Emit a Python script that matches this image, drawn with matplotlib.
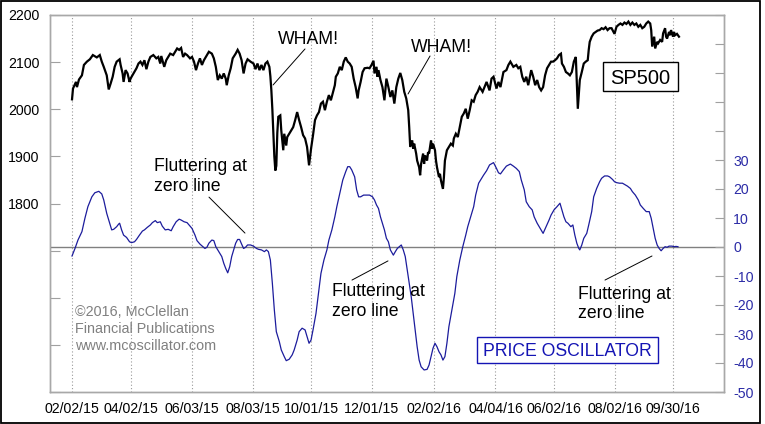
import matplotlib
matplotlib.use("Agg")
import matplotlib.pyplot as plt
import matplotlib.patches as mpatches
import pandas as pd

plt.rcParams['font.family'] = ['Liberation Sans', 'DejaVu Sans']
plt.rcParams['axes.unicode_minus'] = False

# ---------------- data ----------------
base_date = "2015-02-02"

sp_days = [0, 1, 4, 5, 7, 10, 12, 15, 18, 21, 25, 28, 30, 32, 35, 37, 39, 41, 43, 45,
           48, 49, 51, 52, 54, 56, 58, 59, 62, 65, 67, 69, 71, 73, 75, 77, 79, 82, 85, 87,
           89, 90, 93, 95, 97, 99, 102, 104, 106, 108, 110, 112, 114, 116, 119, 121, 123, 125, 127, 129,
           131, 133, 136, 138, 141, 143, 145, 147, 149, 151, 153, 155, 156, 158, 160, 162, 165, 167, 169, 171,
           173, 175, 177, 180, 183, 185, 187, 189, 191, 193, 195, 197, 199, 200, 201, 202, 203, 204, 205, 206,
           207, 208, 210, 211, 213, 214, 216, 217, 219, 221, 223, 225, 227, 229, 231, 233, 235, 237, 239, 240,
           241, 243, 245, 247, 249, 251, 253, 255, 257, 259, 261, 263, 265, 266, 268, 270, 272, 274, 276, 278,
           280, 282, 284, 286, 288, 289, 291, 293, 295, 298, 300, 302, 304, 305, 307, 308, 309, 311, 313, 315,
           317, 319, 321, 323, 325, 327, 329, 331, 333, 335, 337, 339, 340, 341, 343, 344, 345, 347, 348, 350,
           351, 352, 354, 355, 356, 358, 359, 360, 362, 363, 364, 366, 367, 368, 370, 371, 372, 374, 375, 376,
           378, 380, 382, 384, 385, 387, 389, 391, 393, 395, 397, 399, 401, 403, 405, 407, 409, 411, 414, 418,
           421, 423, 425, 428, 430, 432, 435, 438, 440, 442, 445, 448, 450, 452, 454, 456, 458, 460, 462, 463,
           465, 467, 469, 471, 473, 475, 477, 479, 481, 483, 485, 487, 489, 491, 493, 494, 496, 498, 500, 502,
           504, 506, 508, 509, 510, 511, 512, 514, 516, 518, 520, 521, 522, 524, 526, 528, 530, 532, 534, 536,
           538, 540, 542, 544, 547, 549, 551, 553, 555, 557, 559, 561, 563, 565, 567, 569, 571, 573, 575, 577,
           579, 581, 583, 584, 585, 587, 588, 590, 591, 593, 595, 596, 598, 599, 600, 602, 603, 604, 606, 607,
           608, 610, 612]
sp_vals = [2021, 2044, 2058, 2047, 2063, 2072, 2094, 2101, 2106, 2115, 2110, 2115, 2101, 2090, 2072, 2042, 2055, 2069, 2090, 2101,
           2106, 2094, 2076, 2058, 2083, 2076, 2058, 2065, 2076, 2087, 2097, 2101, 2094, 2104, 2085, 2101, 2111, 2115, 2108, 2111,
           2097, 2113, 2090, 2104, 2111, 2118, 2115, 2122, 2129, 2126, 2130, 2111, 2118, 2115, 2108, 2111, 2101, 2083, 2097, 2108,
           2094, 2104, 2115, 2122, 2118, 2108, 2090, 2062, 2072, 2065, 2076, 2065, 2051, 2072, 2087, 2108, 2118, 2126, 2118, 2104,
           2076, 2097, 2106, 2101, 2097, 2085, 2097, 2083, 2094, 2083, 2097, 2101, 2090, 2070, 2040, 2000, 1950, 1900, 1870, 1880,
           1950, 1984, 1987, 1955, 1913, 1948, 1923, 1941, 1948, 1955, 1962, 1977, 1994, 1977, 1962, 1945, 1938, 1920, 1881, 1899,
           1916, 1945, 1977, 1987, 1994, 2012, 2016, 1998, 2016, 2030, 2019, 2035, 2051, 2069, 2076, 2090, 2083, 2101, 2110, 2101,
           2097, 2090, 2065, 2047, 2023, 2040, 2058, 2079, 2087, 2088, 2087, 2094, 2103, 2076, 2090, 2069, 2083, 2062, 2047, 2019,
           2065, 2047, 2026, 2040, 2012, 2047, 2065, 2077, 2062, 2037, 2023, 1998, 1962, 1920, 1934, 1916, 1927, 1906, 1891, 1877,
           1860, 1884, 1906, 1884, 1902, 1891, 1909, 1906, 1934, 1916, 1927, 1913, 1891, 1877, 1856, 1863, 1849, 1831, 1856, 1891,
           1913, 1920, 1927, 1923, 1938, 1948, 1941, 1962, 1984, 1991, 2001, 1980, 1998, 2019, 2016, 2030, 2037, 2047, 2037, 2058,
           2040, 2065, 2069, 2044, 2058, 2047, 2079, 2083, 2094, 2101, 2090, 2094, 2087, 2090, 2069, 2058, 2069, 2051, 2072, 2083,
           2069, 2051, 2062, 2047, 2040, 2047, 2072, 2087, 2094, 2101, 2101, 2104, 2108, 2115, 2118, 2097, 2090, 2079, 2076, 2072,
           2079, 2101, 2111, 2055, 2001, 2033, 2062, 2079, 2097, 2101, 2104, 2126, 2143, 2154, 2161, 2164, 2167, 2168, 2172, 2170,
           2174, 2168, 2172, 2172, 2160, 2175, 2179, 2182, 2179, 2184, 2181, 2186, 2179, 2184, 2179, 2182, 2175, 2179, 2172, 2175,
           2182, 2186, 2182, 2168, 2133, 2154, 2129, 2143, 2140, 2147, 2143, 2161, 2172, 2154, 2150, 2164, 2157, 2168, 2154, 2164,
           2157, 2160, 2154]

osc_days = [0, 3, 6, 10, 13, 16, 20, 23, 27, 30, 32, 35, 38, 40, 42, 45, 47, 48, 50, 52,
            55, 58, 60, 63, 65, 68, 71, 73, 76, 79, 81, 84, 86, 89, 91, 94, 97, 100, 102, 105,
            108, 110, 113, 116, 118, 121, 124, 126, 129, 132, 134, 136, 138, 141, 143, 145, 148, 151, 153, 155,
            157, 159, 161, 163, 165, 167, 169, 171, 173, 175, 177, 180, 183, 186, 188, 191, 194, 196, 198, 200,
            202, 204, 206, 209, 211, 214, 216, 219, 222, 224, 227, 229, 232, 235, 237, 239, 241, 243, 246, 249,
            251, 254, 257, 259, 262, 265, 267, 270, 273, 276, 278, 280, 282, 285, 287, 289, 291, 294, 297, 300,
            303, 305, 307, 309, 311, 313, 315, 317, 319, 321, 324, 326, 328, 330, 332, 334, 336, 338, 340, 342,
            344, 346, 348, 350, 352, 355, 358, 360, 362, 364, 366, 368, 370, 372, 374, 376, 378, 380, 383, 386,
            388, 391, 394, 397, 399, 402, 405, 407, 410, 413, 415, 418, 421, 425, 428, 430, 432, 435, 438, 442,
            445, 448, 451, 453, 456, 458, 461, 464, 466, 469, 473, 475, 478, 481, 483, 486, 489, 492, 494, 496,
            498, 500, 503, 505, 507, 509, 511, 512, 514, 516, 519, 521, 524, 526, 529, 532, 534, 537, 540, 542,
            545, 547, 549, 552, 555, 557, 560, 563, 565, 568, 571, 573, 576, 579, 582, 584, 586, 588, 590, 592,
            594, 596, 598, 600, 602, 605, 607, 609, 611]
osc_vals = [-3.1, -0.5, 2.4, 5.3, 9.9, 13.9, 17.3, 18.7, 19.2, 18.3, 16.2, 11.6, 8.2, 5.9, 6.1, 7.0, 7.9, 8.2, 5.9, 4.1,
            3.3, 1.8, 1.5, 1.8, 2.6, 4.1, 5.5, 5.9, 6.8, 7.6, 8.4, 9.1, 8.4, 8.7, 7.2, 5.9, 6.1, 5.6, 7.0, 8.7,
            9.6, 9.3, 8.7, 8.4, 7.6, 6.4, 4.1, 2.2, 1.0, 0.1, -0.5, -0.1, 1.3, 2.4, 2.2, 0.1, -1.6, -3.3, -5.6, -7.4,
            -8.9, -6.8, -3.3, -1.0, 1.3, 2.6, 2.6, 1.0, -0.5, -0.1, 0.7, 0.7, 0.3, -0.5, -0.8, -1.0, -1.6, -1.0, -1.6, -4.5,
            -12.5, -21.7, -29.2, -32.6, -35.5, -37.8, -39.2, -38.7, -37.2, -35.5, -32.1, -29.2, -28.0, -28.6, -30.9, -33.2, -32.1, -28.6, -22.9, -14.8,
            -9.1, -4.5, -1.0, 2.4, 5.9, 10.4, 13.9, 18.5, 23.1, 26.0, 27.7, 27.7, 26.6, 24.2, 19.7, 17.3, 17.3, 17.9, 17.9, 17.9,
            17.3, 16.2, 14.5, 13.3, 10.4, 8.2, 5.9, 3.0, 1.8, -1.0, -2.8, -1.6, -0.5, 0.1, 0.7, -1.0, -3.3, -7.9, -12.5, -17.1,
            -22.9, -28.6, -34.4, -39.0, -41.3, -42.4, -42.2, -40.7, -37.8, -34.9, -33.2, -34.4, -36.1, -37.2, -39.0, -37.8, -33.2, -27.5, -21.7, -16.0,
            -10.2, -4.5, 0.1, 4.1, 7.0, 10.4, 13.9, 17.9, 22.0, 23.7, 24.8, 26.3, 28.3, 29.1, 27.1, 25.6, 25.2, 26.6, 27.9, 28.6,
            27.9, 27.1, 26.0, 23.1, 19.7, 15.6, 13.9, 12.8, 10.4, 8.2, 5.9, 4.7, 7.0, 9.3, 11.0, 12.8, 13.9, 15.1, 12.8, 10.4,
            8.7, 8.2, 7.0, 7.6, 4.1, 1.3, -0.5, -1.0, 0.7, 3.0, 4.7, 7.6, 12.2, 17.3, 20.2, 22.5, 23.7, 24.5, 24.5, 24.2,
            23.3, 22.5, 22.2, 22.0, 22.0, 21.6, 21.0, 20.2, 19.1, 17.9, 16.2, 14.5, 13.3, 12.2, 12.2, 9.9, 6.4, 3.0, 0.7, -0.5,
            -1.3, -0.5, 0.1, -0.1, 0.3, 0.3, 0.1, 0.2, 0.1]

date_ticks = ["2015-02-02", "2015-04-02", "2015-06-03", "2015-08-03", "2015-10-01", "2015-12-01",
              "2016-02-02", "2016-04-04", "2016-06-02", "2016-08-02", "2016-09-30"]
date_labels = ["02/02/15", "04/02/15", "06/03/15", "08/03/15", "10/01/15", "12/01/15",
               "02/02/16", "04/04/16", "06/02/16", "08/02/16", "09/30/16"]
sp_ticks = [1400, 1500, 1600, 1700, 1800, 1900, 2000, 2100, 2200]
sp_ticklabels = ["", "", "", "", "1800", "1900", "2000", "2100", "2200"]
osc_ticks = [-50, -40, -30, -20, -10, 0, 10, 20, 30, 40, 50, 60, 70, 80]
osc_ticklabels = ["-50", "-40", "-30", "-20", "-10", "0", "10", "20", "30", "", "", "", "", ""]

# ---------------- figure ----------------
W, H = 765, 424
fig = plt.figure(figsize=(W / 100, H / 100), dpi=100)
fig.patch.set_facecolor('white')

def fx(x):
    return x / W

def fy(y):
    return 1 - y / H

ax = fig.add_axes([50 / W, (H - 392) / H, 674 / W, 377 / H])
ax2 = ax.twinx()

base = pd.Timestamp(base_date)
sp_dates = base + pd.to_timedelta(sp_days, unit='D')
osc_dates = base + pd.to_timedelta(osc_days, unit='D')

def d(n):
    return base + pd.Timedelta(days=n)

ax.plot(sp_dates, sp_vals, color='black', lw=1.6, solid_joinstyle='miter', zorder=3)
ax2.axhline(0, color='#808080', lw=1.0, zorder=1)
ax2.plot(osc_dates, osc_vals, color='#1c1c9c', lw=0.9, zorder=3)

ax.set_xlim(d(-22.2), d(657.4))
ax.set_ylim(1400, 2200)
ax2.set_ylim(-50, 80)

ax.set_xticks(pd.to_datetime(date_ticks))
ax.set_xticklabels(date_labels)
ax.set_yticks(sp_ticks)
ax.set_yticklabels(sp_ticklabels)
ax2.set_yticks(osc_ticks)
ax2.set_yticklabels(osc_ticklabels)

ax.grid(axis='x', color='#9a9a9a', lw=0.8, ls=(0, (1, 2)))
ax.tick_params(axis='x', length=0, pad=7, labelsize=10.2, colors='black')
ax.tick_params(axis='y', direction='in', length=7, width=0.8, color='#a0a0a0',
               pad=7.5, labelsize=10.2, labelcolor='black')
ax2.tick_params(axis='y', direction='in', length=6.5, width=0.8, color='#a0a0a0',
                pad=6.5, labelsize=10.2, labelcolor='#2b2ba6')
for a in (ax, ax2):
    for s in a.spines.values():
        s.set_color('#a8a8a8')
        s.set_linewidth(1.0)

# ---------------- annotations ----------------
tfs = 12.7
fig.text(fx(278), fy(44.5), "WHAM!", fontsize=tfs, va='baseline', ha='left')
fig.text(fx(411), fy(51.7), "WHAM!", fontsize=tfs, va='baseline', ha='left')
line_kw = dict(arrowprops=dict(arrowstyle='-', color='black', lw=0.7, shrinkA=0, shrinkB=0))
ax.annotate('', xy=(d(202.7), 2051.5), xytext=(d(234.9), 2127.9), **line_kw)
ax.annotate('', xy=(d(338.8), 2032.4), xytext=(d(361.0), 2113.0), **line_kw)

for (x, y1, y2) in [(154, 171, 191), (332, 296, 315.5), (578.5, 299, 318.5)]:
    fig.text(fx(x), fy(y1), "Fluttering at", fontsize=tfs, va='baseline', ha='left')
    fig.text(fx(x), fy(y2), "zero line", fontsize=tfs, va='baseline', ha='left')
ax2.annotate('', xy=(d(174.4), 4.8), xytext=(d(138.1), 17.2), **line_kw)
ax2.annotate('', xy=(d(318.6), -4.8), xytext=(d(282.3), -11.4), **line_kw)
ax2.annotate('', xy=(d(584.8), -3.1), xytext=(d(537.4), -11.4), **line_kw)

# SP500 box
fig.patches.append(mpatches.Rectangle((fx(603), fy(91)), 75 / W, 29 / H, transform=fig.transFigure,
                                      fill=True, facecolor='white', edgecolor='black', lw=1.0, zorder=5))
fig.text(fx(640.5), fy(76.5), "SP500", fontsize=14.5, ha='center', va='center_baseline', zorder=6)

# PRICE OSCILLATOR box
blue = '#1414b4'
fig.patches.append(mpatches.Rectangle((fx(477), fy(363)), 181 / W, 26 / H, transform=fig.transFigure,
                                      fill=True, facecolor='white', edgecolor=blue, lw=1.0, zorder=5))
fig.text(fx(567.5), fy(350), "PRICE OSCILLATOR", fontsize=12.7, color=blue,
         ha='center', va='center_baseline', zorder=6)

# copyright
for y, s in [(316.4, "\u00a92016, McClellan"), (333, "Financial Publications"), (349.6, "www.mcoscillator.com")]:
    fig.text(fx(75), fy(y), s, fontsize=10.4, color='#808080', va='baseline', ha='left')

# outer border
fig.patches.append(mpatches.Rectangle((fx(0.7), fy(423.2)), 759.5 / W, 422.5 / H,
                                      transform=fig.transFigure, fill=False,
                                      edgecolor='black', lw=1.3, zorder=10))

fig.savefig("out.png", dpi=100, facecolor='white')
